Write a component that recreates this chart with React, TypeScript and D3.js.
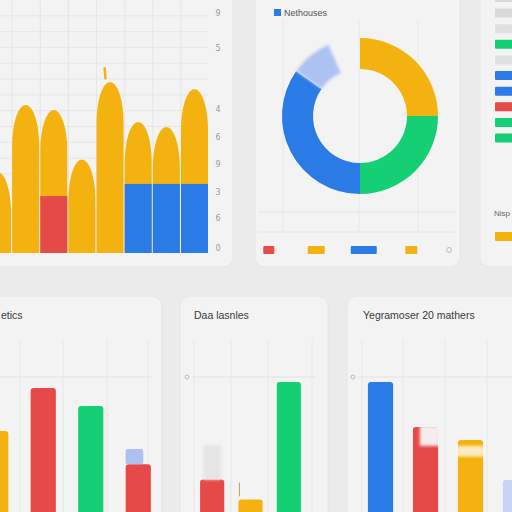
import { useEffect, useRef } from "react";
import * as d3 from "d3";

// Top-left: bullet-shaped bars
const topBars = ["a", "b", "c", "d", "e", "f", "g", "h"];
const topTotals = [32, 58.5, 56.5, 37, 67.6, 51.8, 49.8, 64.8];
const topRed = [0, 0, 22.5, 0, 0, 0, 0, 0];
const topBlue = [0, 0, 0, 0, 0, 27.3, 27.3, 27.3];
const topTickValues = [2, 14, 24, 35, 46, 57, 81, 95];
const topTickLabels = ["0", "6", "3", "9", "6", "4", "5", "9"];

// Donut
const donutKeys = ["Yellow", "Green", "Blue", "Light", "Gap"];
const donutValues = [90, 90, 125, 31, 24];
const donutLegend = "Nethouses";

// Donut footer strip
const stripKeys = ["r", "y1", "b", "y2"];
const stripValues = [11, 17, 26, 12];

// Right list
const listColors = ["grey", "grey", "light", "green", "light", "blue", "blue", "red", "green", "green"];
const listTitle = "Nisp";

// Bottom panels
const leftTitle = "etics";
const leftKeys = ["p", "q", "r", "s"];
const leftValues = [64.7, 92.8, 81, 43];
const leftCaps = [0, 0, 0, 53];
const leftColors = ["yellow", "red", "green", "red"];

const midTitle = "Daa lasnles";
const midKeys = ["p", "q", "r"];
const midValues = [33, 20, 96.7];
const midGhost = [55.6, 0, 0];
const midColors = ["red", "yellow", "green"];

const rightTitle = "Yegramoser  20 mathers";
const rightKeys = ["p", "q", "r", "s"];
const rightValues = [96.7, 67.3, 58.8, 32.7];
const rightColors = ["blue", "red", "yellow", "lavender"];

const palette: Record<string, string> = {
	yellow: "#f3b20f",
	red: "#e64a48",
	green: "#14cf74",
	blue: "#2a7be6",
	lavender: "#c9d3f4",
	light: "#e0e0e0",
	grey: "#d9d9d9",
};

export default function App() {
	const ref = useRef<SVGSVGElement>(null);

	useEffect(() => {
		document.body.style.margin = "0";
		const svg = d3.select(ref.current);
		svg.selectAll("*").remove();

		svg.append("rect").attr("width", 512).attr("height", 512).attr("fill", "#ebebeb");

		const defs = svg.append("defs");
		defs.append("filter").attr("id", "soft")
			.append("feGaussianBlur").attr("stdDeviation", 1.5);

		// Panels
		const panels = [
			[-12, -12, 245, 279],
			[255, -12, 205, 279],
			[480, -12, 60, 279],
			[-12, 296, 174, 240],
			[180, 296, 148, 240],
			[347, 296, 190, 240],
		];
		svg.selectAll(".panel")
			.data(panels)
			.enter()
			.append("rect")
			.attr("x", d => d[0])
			.attr("y", d => d[1])
			.attr("width", d => d[2])
			.attr("height", d => d[3])
			.attr("rx", 10)
			.attr("fill", "#f3f3f3")
			.attr("stroke", "#e6e6e6");

		// ---------- Panel 1: bullet bars ----------
		const p1 = svg.append("g");
		const x1 = d3.scaleBand().domain(topBars).range([-16, 208]).paddingInner(0.04);
		const y1 = d3.scaleLinear().domain([0, 100]).range([253, 0]);

		// grid
		p1.selectAll(".hgrid")
			.data(d3.range(6.25, 100, 6.25))
			.enter()
			.append("line")
			.attr("x1", 0).attr("x2", 208)
			.attr("y1", d => y1(d)).attr("y2", d => y1(d))
			.attr("stroke", "#e6e6e6");
		p1.selectAll(".vgrid")
			.data(topBars.slice(1))
			.enter()
			.append("line")
			.attr("x1", d => x1(d)!).attr("x2", d => x1(d)!)
			.attr("y1", 0).attr("y2", 253)
			.attr("stroke", "#e6e6e6");

		const bw = x1.bandwidth();
		p1.selectAll(".bullet")
			.data(topBars)
			.enter()
			.append("path")
			.attr("fill", palette.yellow)
			.attr("d", (d, i) => {
				const x0 = x1(d)!;
				const top = y1(topTotals[i]);
				const ry = bw * 1.5;
				return `M${x0},${y1(0)} L${x0},${top + ry} A${bw / 2},${ry} 0 0 1 ${x0 + bw},${top + ry} L${x0 + bw},${y1(0)} Z`;
			});
		p1.selectAll(".red")
			.data(topBars)
			.enter()
			.filter((_, i) => topRed[i] > 0)
			.append("rect")
			.attr("x", d => x1(d)!)
			.attr("width", bw)
			.attr("y", d => y1(topRed[topBars.indexOf(d)]))
			.attr("height", d => y1(0) - y1(topRed[topBars.indexOf(d)]))
			.attr("fill", palette.red);
		p1.selectAll(".blue")
			.data(topBars)
			.enter()
			.filter((_, i) => topBlue[i] > 0)
			.append("rect")
			.attr("x", d => x1(d)!)
			.attr("width", bw)
			.attr("y", d => y1(topBlue[topBars.indexOf(d)]))
			.attr("height", d => y1(0) - y1(topBlue[topBars.indexOf(d)]))
			.attr("fill", palette.blue);
		// small spike above tallest bar
		p1.append("line")
			.attr("x1", x1("e")! + bw * 0.3).attr("x2", x1("e")! + bw * 0.33)
			.attr("y1", y1(73)).attr("y2", y1(69))
			.attr("stroke", palette.yellow)
			.attr("stroke-width", 2.5)
			.attr("stroke-linecap", "round");

		p1.selectAll(".tick")
			.data(topTickValues)
			.enter()
			.append("text")
			.attr("x", 218)
			.attr("y", d => y1(d) + 3)
			.attr("text-anchor", "middle")
			.attr("font-family", "DejaVu Sans")
			.attr("font-size", "8px")
			.attr("fill", "#9a9a9a")
			.text((_, i) => topTickLabels[i]);

		// ---------- Panel 2: donut ----------
		const p2 = svg.append("g");
		[283, 359, 418].forEach(x => {
			p2.append("line").attr("x1", x).attr("x2", x).attr("y1", 20).attr("y2", 232).attr("stroke", "#e8e8e8");
		});
		[212, 232].forEach(y => {
			p2.append("line").attr("x1", 258).attr("x2", 455).attr("y1", y).attr("y2", y).attr("stroke", "#e4e4e4");
		});

		p2.append("rect").attr("x", 274).attr("y", 9).attr("width", 7).attr("height", 7).attr("fill", palette.blue);
		p2.append("text")
			.attr("x", 284).attr("y", 16)
			.attr("font-family", "Liberation Sans")
			.attr("font-size", "9px")
			.attr("fill", "#555")
			.text(donutLegend);

		const donutColors = d3.scaleOrdinal<string>()
			.domain(donutKeys)
			.range([palette.yellow, palette.green, palette.blue, "#aec2f2", "none"]);
		const pie = d3.pie<number>().sort(null).value(d => d);
		const arc = d3.arc<d3.PieArcDatum<number>>().innerRadius(47).outerRadius(78);
		const donut = p2.append("g").attr("transform", "translate(360,116)");
		donut.selectAll("path")
			.data(pie(donutValues))
			.enter()
			.append("path")
			.attr("d", arc)
			.attr("fill", (_, i) => donutColors(donutKeys[i]))
			.attr("filter", (_, i) => donutKeys[i] === "Light" ? "url(#soft)" : null);

		const sx = d3.scaleBand().domain(stripKeys).range([245, 435]);
		const sw = d3.scaleLinear().domain([0, 26]).range([0, 26]);
		const stripColors = [palette.red, palette.yellow, palette.blue, palette.yellow];
		p2.selectAll(".strip")
			.data(stripKeys)
			.enter()
			.append("rect")
			.attr("x", (d, i) => sx(d)! + sx.bandwidth() / 2 - sw(stripValues[i]) / 2)
			.attr("y", 246)
			.attr("width", (_, i) => sw(stripValues[i]))
			.attr("height", 8)
			.attr("rx", 1)
			.attr("fill", (_, i) => stripColors[i]);
		p2.append("circle").attr("cx", 449).attr("cy", 250).attr("r", 2.5).attr("fill", "none").attr("stroke", "#bbb");

		// ---------- Panel 3: list ----------
		const p3 = svg.append("g");
		const ly = d3.scalePoint().domain(d3.range(listColors.length).map(String)).range([-2.6, 138]);
		p3.selectAll(".row")
			.data(listColors)
			.enter()
			.append("rect")
			.attr("x", 495)
			.attr("y", (_, i) => ly(String(i))! - 4.5)
			.attr("width", 30)
			.attr("height", 9)
			.attr("rx", 1)
			.attr("fill", d => palette[d]);
		p3.append("text")
			.attr("x", 494).attr("y", 216)
			.attr("font-family", "Liberation Sans")
			.attr("font-size", "8px")
			.attr("fill", "#666")
			.text(listTitle);
		p3.append("rect").attr("x", 495).attr("y", 232).attr("width", 30).attr("height", 9).attr("rx", 1).attr("fill", palette.yellow);

		// ---------- Bottom panels ----------
		const yb = d3.scaleLinear().domain([0, 100]).range([530, 377]);

		const drawPanel = (
			title: string, titleX: number, anchor: string,
			keys: string[], values: number[], colors: string[],
			range: [number, number], pad: number,
			vgrid: number[], gridFrom: number, gridTo: number, zeroX: number | null,
		) => {
			const g = svg.append("g");
			vgrid.forEach(x => {
				g.append("line").attr("x1", x).attr("x2", x).attr("y1", 340).attr("y2", 512).attr("stroke", "#e8e8e8");
			});
			g.append("line").attr("x1", gridFrom).attr("x2", gridTo).attr("y1", yb(100)).attr("y2", yb(100)).attr("stroke", "#e2e2e2");
			if (zeroX !== null) {
				g.append("circle").attr("cx", zeroX).attr("cy", yb(100)).attr("r", 2).attr("fill", "none").attr("stroke", "#aaa").attr("stroke-width", 0.8);
			}
			g.append("text")
				.attr("x", titleX).attr("y", 319)
				.attr("text-anchor", anchor)
				.attr("font-family", "Liberation Sans")
				.attr("font-size", "10.5px")
				.attr("fill", "#3a3a3a")
				.text(title);
			const x = d3.scaleBand().domain(keys).range(range).paddingInner(pad).paddingOuter(pad / 2);
			g.selectAll(".bar")
				.data(keys)
				.enter()
				.append("rect")
				.attr("x", d => x(d)!)
				.attr("y", (_, i) => yb(values[i]))
				.attr("width", x.bandwidth())
				.attr("height", (_, i) => yb(0) - yb(values[i]))
				.attr("rx", 3)
				.attr("fill", (_, i) => palette[colors[i]]);
			return { g, x };
		};

		const left = drawPanel(leftTitle, 1, "start", leftKeys, leftValues, leftColors,
			[-28, 162], 0.47, [20, 63, 107, 148], 0, 152, null);
		left.g.selectAll(".cap")
			.data(leftKeys)
			.enter()
			.filter((_, i) => leftCaps[i] > 0)
			.append("rect")
			.attr("x", d => left.x(d)!)
			.attr("y", d => yb(leftCaps[leftKeys.indexOf(d)]))
			.attr("width", left.x.bandwidth() * 0.7)
			.attr("height", d => yb(leftValues[leftKeys.indexOf(d)]) - yb(leftCaps[leftKeys.indexOf(d)]))
			.attr("rx", 2)
			.attr("fill", "#aec0f0");

		const mid = drawPanel(midTitle, 194, "start", midKeys, midValues, midColors,
			[193, 308], 0.37, [194, 231, 268, 312], 192, 316, 187);
		mid.g.selectAll(".ghost")
			.data(midKeys)
			.enter()
			.filter((_, i) => midGhost[i] > 0)
			.append("rect")
			.attr("x", d => mid.x(d)! + 3)
			.attr("y", d => yb(midGhost[midKeys.indexOf(d)]))
			.attr("width", mid.x.bandwidth() - 6)
			.attr("height", d => yb(midValues[midKeys.indexOf(d)]) - yb(midGhost[midKeys.indexOf(d)]))
			.attr("fill", "#e6e6e6")
			.attr("filter", "url(#soft)");
		mid.g.append("line")
			.attr("x1", mid.x("q")! + 1).attr("x2", mid.x("q")! + 1)
			.attr("y1", yb(31)).attr("y2", yb(22))
			.attr("stroke", "#c9a23a").attr("stroke-width", 1);

		const right = drawPanel(rightTitle, 363, "start", rightKeys, rightValues, rightColors,
			[358, 538], 0.44, [362, 403, 445, 487], 358, 512, 353);
		// faded tops
		right.g.append("rect")
			.attr("x", right.x("q")! + 7).attr("y", yb(68))
			.attr("width", right.x.bandwidth() - 5).attr("height", yb(55) - yb(68))
			.attr("fill", "#f6f6f6").attr("opacity", 0.95)
			.attr("filter", "url(#soft)");
		right.g.append("rect")
			.attr("x", right.x("r")! - 1).attr("y", yb(55))
			.attr("width", right.x.bandwidth() + 2).attr("height", yb(48) - yb(55))
			.attr("fill", "#ffffff").attr("opacity", 0.75)
			.attr("filter", "url(#soft)");
	}, []);

	return <svg ref={ref} width={512} height={512} style={{ display: "block" }}></svg>;
}
